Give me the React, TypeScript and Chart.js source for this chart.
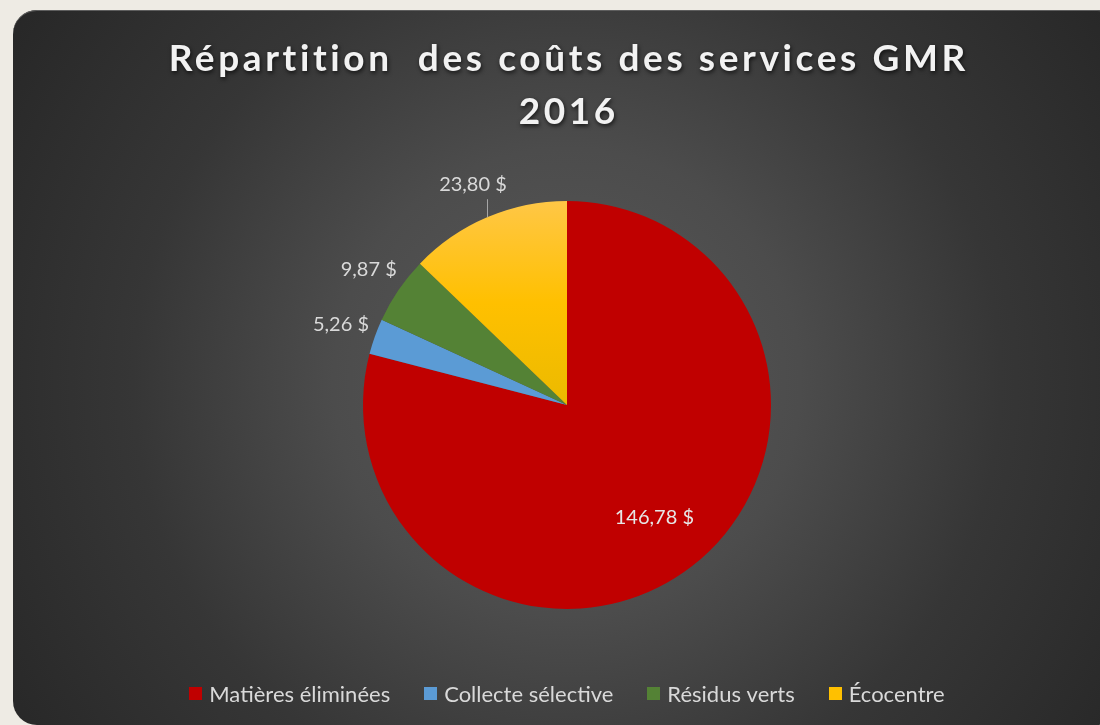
import React, { useEffect, useRef } from "react";
import { Chart, registerables } from "chart.js";

Chart.register(...registerables);

const titleLines = ["Répartition  des coûts des services GMR", "2016"];
const categories = ["Matières éliminées", "Collecte sélective", "Résidus verts", "Écocentre"];
const costs = [146.78, 5.26, 9.87, 23.8];
const sliceColors = ["#c00000", "#5b9bd5", "#548235", "#ffc000"];
const labelInside = [true, false, false, false];
const labelLeader = [false, false, false, true];

const fmt = (v: number) => v.toFixed(2).replace(".", ",") + " $";

const FONT = "Lato, 'Open Sans', sans-serif";

const titlePlugin = {
  id: "customTitle",
  afterDraw(chart: any) {
    const ctx = chart.ctx;
    const { left, right } = chart.chartArea;
    const cx = (left + right) / 2;
    ctx.save();
    ctx.font = `bold 37px ${FONT}`;
    const spacing = 3.6;
    (ctx as any).letterSpacing = spacing + "px";
    ctx.textAlign = "center";
    ctx.textBaseline = "alphabetic";
    ctx.fillStyle = "#f2f2f2";
    ctx.shadowColor = "rgba(0,0,0,0.7)";
    ctx.shadowBlur = 4;
    ctx.shadowOffsetX = 1;
    ctx.shadowOffsetY = 2;
    const baselines = [71, 124];
    titleLines.forEach((line, i) => {
      ctx.fillText(line, cx + spacing / 2, baselines[i]);
    });
    ctx.restore();
  },
};

const labelPlugin = {
  id: "sliceLabels",
  afterDatasetsDraw(chart: any) {
    const ctx = chart.ctx;
    const meta = chart.getDatasetMeta(0);
    const values = chart.data.datasets[0].data as number[];
    ctx.save();
    ctx.font = `20px ${FONT}`;
    ctx.textAlign = "center";
    ctx.textBaseline = "middle";
    meta.data.forEach((arc: any, i: number) => {
      const { x, y, startAngle, endAngle, outerRadius } = arc.getProps(
        ["x", "y", "startAngle", "endAngle", "outerRadius"],
        true
      );
      const mid = (startAngle + endAngle) / 2;
      const c = Math.cos(mid);
      const s = Math.sin(mid);
      const text = fmt(values[i]);
      if (labelInside[i]) {
        const r = outerRadius * 0.7;
        ctx.fillStyle = "#e6e6e6";
        ctx.fillText(text, x + c * r, y + s * r);
      } else {
        const r = outerRadius + 36;
        const lx = x + c * r;
        const ly = y + s * r;
        ctx.fillStyle = "#d9d9d9";
        ctx.fillText(text, lx, ly);
        if (labelLeader[i]) {
          const ex = x + c * outerRadius;
          const ey = y + s * outerRadius;
          ctx.strokeStyle = "#a6a6a6";
          ctx.lineWidth = 1;
          ctx.beginPath();
          ctx.moveTo(Math.round(ex) + 0.5, ey);
          ctx.lineTo(Math.round(ex) + 0.5, ly + 15);
          ctx.stroke();
        }
      }
    });
    ctx.restore();
  },
};

const legendPlugin = {
  id: "customLegend",
  afterDraw(chart: any) {
    const ctx = chart.ctx;
    const { left, right } = chart.chartArea;
    const cx = (left + right) / 2;
    const yMid = 693.5;
    const box = 13;
    const gapText = 7;
    const gapItem = 34;
    ctx.save();
    ctx.font = `22px ${FONT}`;
    ctx.textBaseline = "middle";
    ctx.textAlign = "left";
    const labels = chart.data.labels as string[];
    const colors = chart.data.datasets[0].legendColors as string[];
    const widths = labels.map((l) => ctx.measureText(l).width);
    const total =
      widths.reduce((a, w) => a + box + gapText + w, 0) + gapItem * (labels.length - 1);
    let x = cx - total / 2;
    labels.forEach((l, i) => {
      ctx.fillStyle = colors[i];
      ctx.fillRect(Math.round(x), Math.round(yMid - box / 2), box, box);
      x += box + gapText;
      ctx.fillStyle = "#d9d9d9";
      ctx.fillText(l, x, yMid + 1);
      x += widths[i] + gapItem;
    });
    ctx.restore();
  },
};

export default function App() {
  const canvasRef = useRef<HTMLCanvasElement | null>(null);

  useEffect(() => {
    const canvas = canvasRef.current;
    if (!canvas) return;
    const chart = new Chart(canvas, {
      type: "pie",
      data: {
        labels: categories,
        datasets: [
          {
            data: costs,
            legendColors: sliceColors,
            backgroundColor: (c: any) => {
              const i = c.dataIndex;
              if (i !== 3) return sliceColors[i];
              const area = c.chart.chartArea;
              if (!area) return sliceColors[i];
              const g = c.chart.ctx.createLinearGradient(0, area.top, 0, (area.top + area.bottom) / 2);
              g.addColorStop(0, "#ffc746");
              g.addColorStop(0.5, "#ffc000");
              g.addColorStop(1, "#ebba00");
              return g;
            },
            borderWidth: 0,
          } as any,
        ],
      },
      options: {
        responsive: false,
        animation: false,
        layout: { padding: { top: 201, bottom: 116, left: 363, right: 329 } },
        plugins: {
          legend: { display: false },
          title: { display: false },
          tooltip: { enabled: false },
        },
      },
      plugins: [titlePlugin, labelPlugin, legendPlugin],
    });
    return () => chart.destroy();
  }, []);

  return (
    <div
      style={{
        position: "fixed",
        left: 0,
        top: 0,
        width: 1100,
        height: 725,
        background: "#eeebe4",
        overflow: "hidden",
      }}
    >
      <div
        style={{
          position: "absolute",
          left: 13,
          top: 10,
          width: 1108,
          height: 715,
          borderRadius: 24,
          background:
            "radial-gradient(circle farthest-corner at 50% 52%, #5a5a5a 0%, #4c4c4c 35%, #363636 65%, #272727 100%)",
          boxShadow: "inset 0 1px 0 #5e5e5e",
        }}
      />
      <canvas
        ref={canvasRef}
        width={1100}
        height={725}
        style={{ position: "absolute", left: 0, top: 0, width: 1100, height: 725 }}
      />
    </div>
  );
}
